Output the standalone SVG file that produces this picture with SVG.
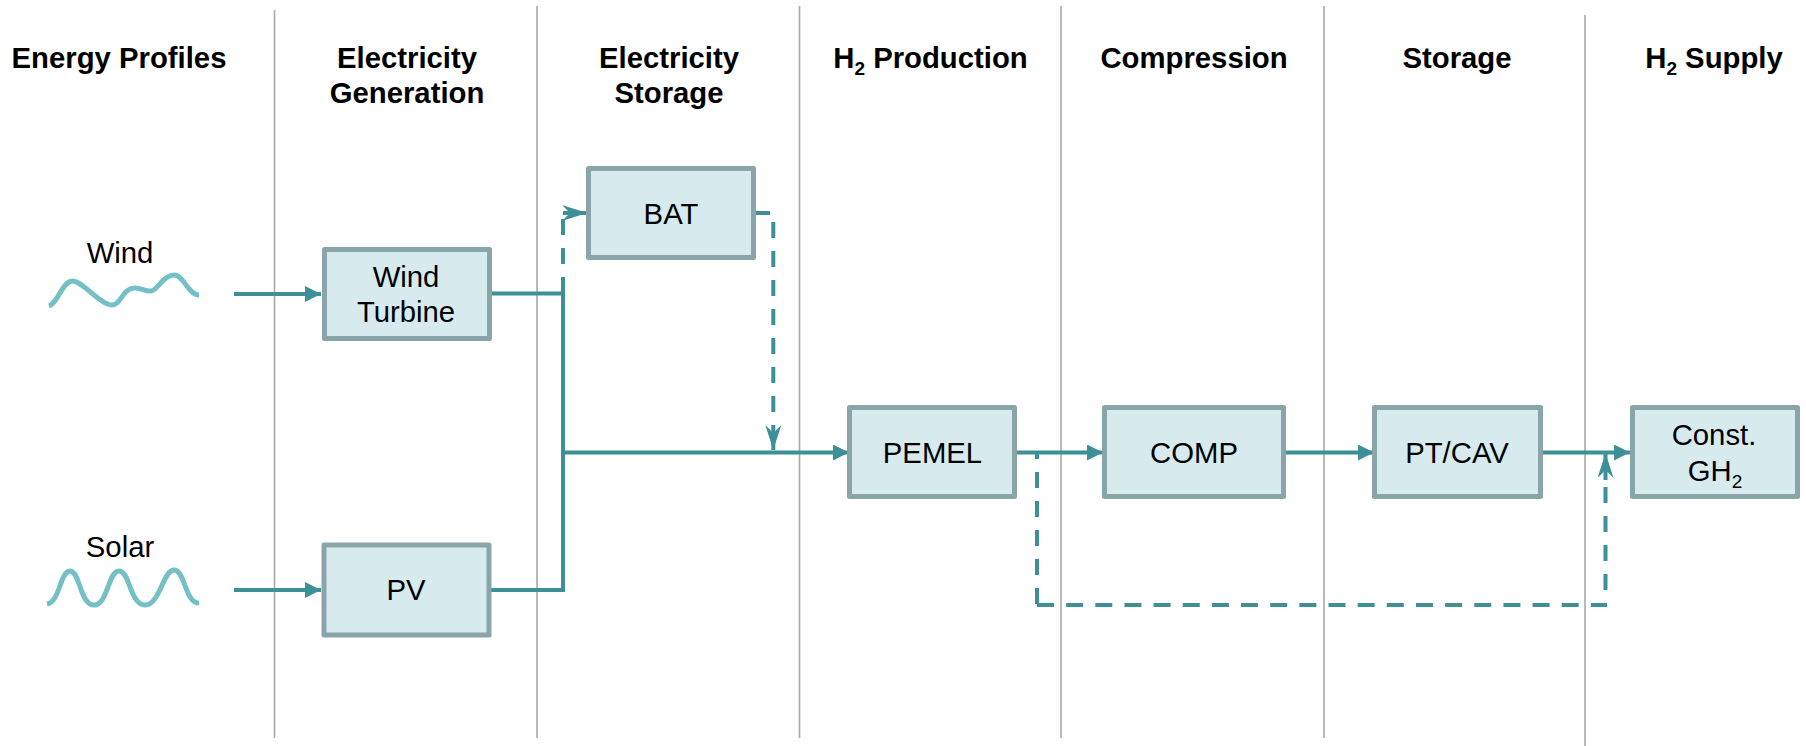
<svg xmlns="http://www.w3.org/2000/svg" width="1806" height="746" viewBox="0 0 1806 746">
<style>
text{font-family:"Liberation Sans",Arial,sans-serif;fill:#000}
.h{font-size:29.300px;font-weight:bold;text-anchor:middle}
.t{font-size:29.300px;text-anchor:middle}
.s{font-size:19px}
.box{fill:#d7ebef;stroke:#8aa5a9;stroke-width:5;stroke-linejoin:round}
.sep{stroke:#a9a9a9;stroke-width:1.6;fill:none}
.c{stroke:#3d9097;stroke-width:4;fill:none}
.d{stroke-dasharray:16 13}
.w{stroke:#75c0c7;stroke-width:5;fill:none}
</style>
<defs>
<marker id="a" markerUnits="userSpaceOnUse" markerWidth="18" markerHeight="18" refX="16" refY="8" orient="auto"><path d="M0 0L16 8L0 16Z" fill="#3d9097"/></marker>
<marker id="b" markerUnits="userSpaceOnUse" markerWidth="26" markerHeight="18" refX="25" refY="8" orient="auto"><path d="M0 0L25 8L0 16L8 8Z" fill="#3d9097"/></marker>
</defs>
<g id="separators">
<path class="sep" d="M274.500 10V738M537 6V738M799.500 6V738M1061 6V738M1324 6V738M1585 15V746"/>
</g>
<g id="headers">
<text class="h" x="119" y="68">Energy Profiles</text>
<text class="h" x="407" y="68">Electricity</text><text class="h" x="407" y="103">Generation</text>
<text class="h" x="669" y="68">Electricity</text><text class="h" x="669" y="103">Storage</text>
<text class="h" x="930.500" y="68">H<tspan class="s" dy="7">2</tspan><tspan dy="-7"> Production</tspan></text>
<text class="h" x="1194" y="68">Compression</text>
<text class="h" x="1457" y="68">Storage</text>
<text class="h" x="1714" y="68">H<tspan class="s" dy="7">2</tspan><tspan dy="-7"> Supply</tspan></text>
</g>
<g id="connectors">
<path class="c" d="M234 294H321" marker-end="url(#a)"/>
<path class="c" d="M234 590H321" marker-end="url(#a)"/>
<path class="c" d="M490 293.500H563M490 590H563V277"/>
<path class="c d" d="M563 264V218"/>
<path class="c" d="M563 213H587" stroke="none" marker-end="url(#b)"/>
<path class="c" d="M563 452.500H849" marker-end="url(#a)"/>
<path class="c" d="M1016 452.500H1103" marker-end="url(#a)"/>
<path class="c" d="M1285 452.500H1374" marker-end="url(#a)"/>
<path class="c" d="M1541 452.500H1630" marker-end="url(#a)"/>
<path class="c" d="M753 213H770"/>
<path class="c d" d="M773.300 222V414"/>
<path class="c" d="M773.300 425V450" stroke="none" marker-end="url(#b)"/>
<path class="c d" d="M1037 453V605" stroke-dashoffset="10"/>
<path class="c" stroke-dasharray="17 12.150" d="M1037 605H1607"/>
<path class="c d" d="M1605.500 590V486"/>
<path class="c" d="M1605.500 480V453" stroke="none" marker-end="url(#b)"/>
</g>
<g id="wind-profile">
<text class="t" x="120" y="263">Wind</text>
<path class="w" d="M49 306C58 303 62 282 72 281C82 280 100 305 112 305C121 305 122 289 134 288C140 287 146 292 151 291C158 290 163 275 174 275C184 275 188 295 199 295"/>
</g>
<g id="solar-profile">
<text class="t" x="120" y="557">Solar</text>
<path class="w" d="M47 604C60 602 60 571 70 571C80 571 80 605 94 605C108 605 108 571 119 571C130 571 130 605 145 605C160 605 163 570 174 570C185 570 185 603 199 603"/>
</g>
<g id="wind-turbine"><rect class="box" x="324.500" y="249.500" width="165" height="89"/><text class="t" x="406" y="287">Wind</text><text class="t" x="406" y="322">Turbine</text></g>
<g id="pv"><rect class="box" x="324" y="545" width="165" height="90"/><text class="t" x="406" y="600">PV</text></g>
<g id="bat"><rect class="box" x="588.500" y="168.500" width="165" height="89"/><text class="t" x="671" y="224">BAT</text></g>
<g id="pemel"><rect class="box" x="849.500" y="407.500" width="165" height="89"/><text class="t" x="932.500" y="463">PEMEL</text></g>
<g id="comp"><rect class="box" x="1104.500" y="407.500" width="179" height="89"/><text class="t" x="1194" y="463">COMP</text></g>
<g id="pt-cav"><rect class="box" x="1374.500" y="407.500" width="166" height="89"/><text class="t" x="1457" y="463">PT/CAV</text></g>
<g id="const-gh2"><rect class="box" x="1632.500" y="407.500" width="165" height="89"/><text class="t" x="1714" y="445">Const.</text><text class="t" x="1715" y="481">GH<tspan class="s" dy="7">2</tspan></text></g>
</svg>
